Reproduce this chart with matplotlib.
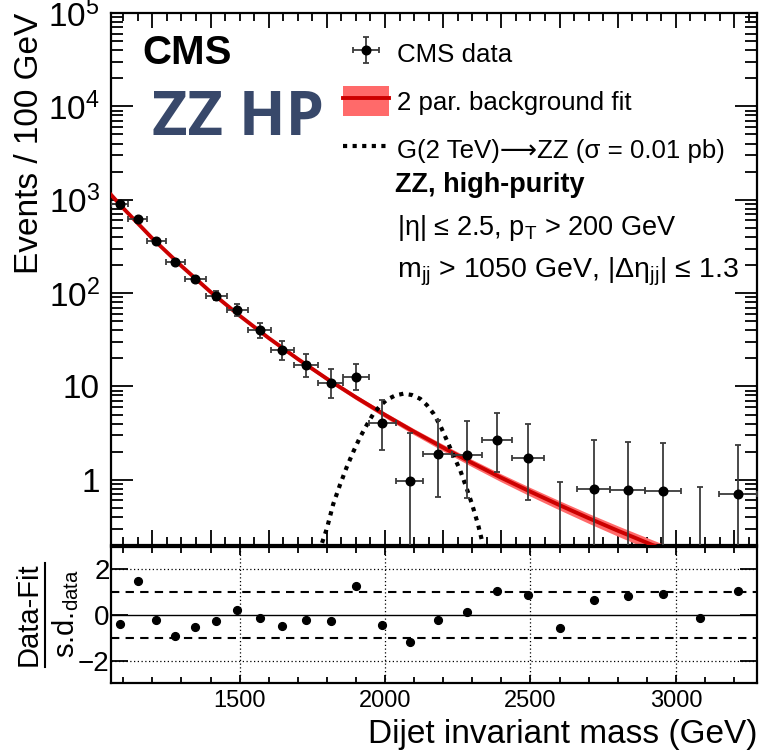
import numpy as np
import matplotlib
matplotlib.use('Agg')
import matplotlib.pyplot as plt
from matplotlib.lines import Line2D
from matplotlib.patches import Patch
from matplotlib.ticker import FixedLocator, MultipleLocator, FuncFormatter, NullFormatter

plt.rcParams['font.family'] = ['Liberation Sans', 'DejaVu Sans']
plt.rcParams['mathtext.fontset'] = 'custom'
plt.rcParams['mathtext.rm'] = 'Liberation Sans'
plt.rcParams['mathtext.it'] = 'Liberation Sans:italic'
plt.rcParams['mathtext.bf'] = 'Liberation Sans:bold'

# dijet mass bins (GeV)
bin_edges = [1058, 1118, 1181, 1246, 1313, 1383, 1455, 1530, 1607, 1687, 1770,
             1856, 1945, 2037, 2132, 2231, 2332, 2438, 2546, 2659, 2775, 2895,
             3019, 3147, 3279]

# events / 100 GeV, nan = empty bin
events = [906, 620, 360, 217, 141, 93.5, 65.2, 40.0, 24.8, 16.8, 10.9, 12.6,
          4.1, 0.97, 1.89, 1.86, 2.65, 1.72, np.nan, 0.80, 0.775, 0.75, np.nan, 0.70]
events_low = [872, 590, 340, 202, 130, 84, 56.6, 33.4, 19.4, 12.6, 7.6, 9.1,
              2.1, 0.05, 0.66, 0.64, 1.22, 0.61, 0.01, 0.05, 0.05, 0.05, 0.01, 0.05]
events_high = [940, 650, 382, 233, 154, 104, 75.6, 48.0, 31.0, 22.2, 15.3, 17.4,
               7.2, 3.2, 4.4, 4.25, 5.2, 4.0, 0.95, 2.65, 2.56, 2.48, 0.83, 2.36]

# (data - fit) / s.d.
pulls = [-0.40, 1.49, -0.23, -0.90, -0.53, -0.26, 0.21, -0.14, -0.47, -0.23,
         -0.26, 1.27, -0.43, -1.19, -0.23, 0.15, 1.05, 0.86, -0.57, 0.66, 0.82,
         0.93, -0.14, 1.06]

# background fit curve and its relative uncertainty
fit_mass = [1058, 1100, 1200, 1300, 1400, 1500, 1600, 1700, 1800, 1900, 2000,
            2100, 2200, 2300, 2400, 2500, 2600, 2700, 2800, 2900, 3000]
fit_val = [1130, 811, 385, 195, 103, 57.3, 33.0, 19.7, 12.1, 7.65, 4.95, 3.27,
           2.21, 1.51, 1.05, 0.745, 0.535, 0.388, 0.285, 0.212, 0.158]
fit_unc = [0.035, 0.033, 0.03, 0.028, 0.028, 0.03, 0.035, 0.042, 0.05, 0.058,
           0.066, 0.074, 0.082, 0.09, 0.098, 0.106, 0.113, 0.12, 0.127, 0.133, 0.14]

# G(2 TeV) -> ZZ signal shape
sig_mass = [1770, 1781, 1800, 1822, 1845, 1868, 1891, 1914, 1937, 1960, 1983,
            2006, 2035, 2063, 2092, 2121, 2144, 2167, 2190, 2213, 2236, 2259,
            2280, 2299, 2320, 2337, 2345]
sig_val = [0.17, 0.2, 0.3, 0.55, 0.88, 1.36, 2.0, 2.85, 3.85, 5.1, 6.2, 7.2,
           8.0, 8.36, 8.1, 7.37, 6.3, 5.1, 3.8, 2.63, 1.8, 1.25, 0.82, 0.55,
           0.33, 0.2, 0.17]

edges = np.array(bin_edges, dtype=float)
centers = 0.5 * (edges[:-1] + edges[1:])
half = 0.5 * np.diff(edges)
ev = np.array(events)
lo = np.array(events_low)
hi = np.array(events_high)
filled = ~np.isnan(ev)

fig = plt.figure(figsize=(7.61, 7.53), dpi=100)
ax = fig.add_axes([0.1459, 0.2762, 0.8489, 0.7065])
rax = fig.add_axes([0.1459, 0.0930, 0.8489, 0.1806])

xmin, xmax = bin_edges[0], bin_edges[-1]
ecol = '#3c3c3c'
band_col = '#ff6a6a'
line_col = '#cc0000'
sig_ls = (0, (1, 1.3))

# Background fit with band
fv = np.array(fit_val)
fu = np.array(fit_unc)
ax.fill_between(fit_mass, fv * (1 - fu), fv * (1 + fu), color=band_col, lw=0, zorder=2)
ax.plot(fit_mass, fv, color=line_col, lw=2.8, zorder=3)

# Signal
ax.plot(sig_mass, sig_val, color='black', lw=3.0, ls=sig_ls, zorder=4)

# Data
data_h = ax.errorbar(centers[filled], ev[filled], xerr=half[filled],
                     yerr=[ev[filled] - lo[filled], hi[filled] - ev[filled]],
                     fmt='o', color='black', ms=6.2, ecolor=ecol, elinewidth=1.3,
                     capsize=2.5, capthick=1.3, zorder=6)
ax.errorbar(centers[~filled], hi[~filled],
            yerr=[hi[~filled] - lo[~filled], np.zeros((~filled).sum())],
            fmt='none', ecolor=ecol, elinewidth=1.3, capsize=2.5, capthick=1.3, zorder=6)

ax.set_yscale('log')
ax.set_xlim(xmin, xmax)
ax.set_ylim(0.2, 1e5)

def _ylab(v, pos):
    if v == 1:
        return '1'
    if v == 10:
        return '10'
    return r'$10^{%d}$' % int(round(np.log10(v)))

ax.yaxis.set_major_locator(FixedLocator([1, 10, 100, 1e3, 1e4, 1e5]))
ax.yaxis.set_major_formatter(FuncFormatter(_ylab))
minors = [m * 10.0 ** e for e in range(-1, 5) for m in range(2, 10)]
ax.yaxis.set_minor_locator(FixedLocator(minors))
ax.yaxis.set_minor_formatter(NullFormatter())
ax.xaxis.set_major_locator(MultipleLocator(200))
ax.xaxis.set_minor_locator(MultipleLocator(50))
ax.xaxis.set_major_formatter(NullFormatter())
ax.tick_params(which='both', direction='in', top=True, right=True, width=1.3)
ax.tick_params(axis='y', which='major', length=16, labelsize=24, pad=8)
ax.tick_params(axis='y', which='minor', length=8.5)
ax.tick_params(axis='x', which='major', length=11)
ax.tick_params(axis='x', which='minor', length=6)
for s in ax.spines.values():
    s.set_linewidth(1.6)

ax.set_ylabel('Events / 100 GeV', fontsize=24, loc='top')
ax.yaxis.set_label_coords(-0.102, 1.0)

# Legend
fit_h = (Patch(facecolor=band_col, edgecolor='none'), Line2D([], [], color=line_col, lw=2.8))
sig_h = Line2D([], [], color='black', lw=3.0, ls=sig_ls)
leg = ax.legend([data_h, fit_h, sig_h],
                ['CMS data', '2 par. background fit', 'G(2 TeV)⟶ZZ (σ = 0.01 pb)'],
                loc='upper left', bbox_to_anchor=(0.359, 0.952), frameon=False,
                fontsize=18.6, borderpad=0, borderaxespad=0, handlelength=1.8,
                handleheight=1.4, handletextpad=0.3, labelspacing=0.7)

ax.text(0.048, 0.925, 'CMS', transform=ax.transAxes, fontsize=29,
        fontweight='bold', va='center', ha='left')
ax.text(0.063, 0.799, 'ZZ HP', transform=ax.transAxes, fontsize=44,
        family='Open Sans', fontweight='bold', color='#38486a',
        va='center', ha='left')
ax.text(0.44, 0.677, 'ZZ, high-purity', transform=ax.transAxes, fontsize=19.5,
        fontweight='bold', va='center', ha='left')
ax.text(0.443, 0.596, r'|η| ≤ 2.5, $\mathrm{p}_{\mathrm{T}}$ > 200 GeV',
        transform=ax.transAxes, fontsize=19.5, va='center', ha='left')
ax.text(0.443, 0.513, r'$\mathrm{m}_{\mathrm{jj}}$ > 1050 GeV, |Δ$\mathrm{η}_{\mathrm{jj}}$| ≤ 1.3',
        transform=ax.transAxes, fontsize=20.5, va='center', ha='left')

# Ratio panel
rax.plot(centers, pulls, 'o', color='black', ms=5.6, zorder=5)
rax.axhline(0, color='black', lw=1.0)
for v in (1, -1):
    rax.axhline(v, color='black', lw=1.5, ls=(0, (4, 3)))
for v in (2, -2):
    rax.axhline(v, color='black', lw=0.9, ls=(0, (1, 2)))
for v in (1500, 2000, 2500, 3000):
    rax.axvline(v, color='black', lw=0.9, ls=(0, (1, 2)))
rax.set_xlim(xmin, xmax)
rax.set_ylim(-2.95, 2.95)
rax.yaxis.set_major_locator(FixedLocator([-2, 0, 2]))
rax.xaxis.set_major_locator(MultipleLocator(500))
rax.xaxis.set_minor_locator(MultipleLocator(100))
rax.tick_params(which='both', direction='in', top=True, right=True, width=1.3)
rax.tick_params(axis='y', which='major', length=12, labelsize=20, pad=1)
rax.tick_params(axis='x', which='major', length=6, labelsize=17, pad=5)
rax.tick_params(axis='x', which='minor', length=4)
for s in rax.spines.values():
    s.set_linewidth(1.6)

rax.set_xlabel('Dijet invariant mass (GeV)', fontsize=24, loc='right', labelpad=5)

# fraction-style label for the ratio axis
fig.text(29 / 761, 1 - 614 / 753, 'Data-Fit', rotation=90, fontsize=21,
         ha='center', va='center')
fig.add_artist(Line2D([45 / 761, 45 / 761], [1 - 563 / 753, 1 - 667 / 753],
                      color='black', lw=1.5, transform=fig.transFigure))
fig.text(66 / 761, 1 - 614 / 753, r's.d.$_{\mathrm{data}}$', rotation=90,
         fontsize=21, ha='center', va='center')

fig.savefig('out.png', dpi=100)
